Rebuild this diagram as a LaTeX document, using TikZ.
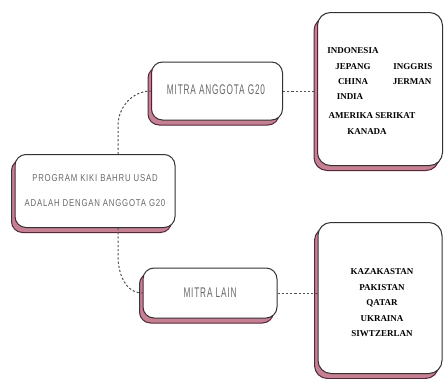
\documentclass[tikz,border=0pt]{standalone}
\usepackage{fontspec}
\setmainfont{Liberation Serif}
\newfontfamily\tipisfont[LetterSpace=10]{Liberation Sans}
\usetikzlibrary{shadows}
\definecolor{merahjambu}{RGB}{198,128,148}
\definecolor{marun}{RGB}{88,40,56}
\definecolor{garis}{RGB}{50,50,50}
\definecolor{kelabu}{RGB}{105,105,105}
\definecolor{putus}{RGB}{80,80,80}
\begin{document}
\begin{tikzpicture}[x=1pt,y=-1pt,font=\fontsize{9}{10}\selectfont\bfseries]
	\tikzset{kotak/.style={draw=garis,line width=1pt,fill=white,rounded corners=11pt,
			general shadow={shadow xshift=-3.5pt,shadow yshift=-5pt,fill=merahjambu,draw=marun,line width=1pt}},
		tajuk/.style={text=kelabu,font=\tipisfont\mdseries,align=center,inner sep=0pt},
		sambung/.style={draw=putus,dash pattern=on 2.2pt off 2pt,line width=1pt}}
	\useasboundingbox (0,0) rectangle (445,378);
	
	% Kotak utama
	\path (95,191) node[kotak,minimum width=160,minimum height=73] (program) {}
	(95,191) node[tajuk,font=\tipisfont\mdseries\fontsize{10}{25}\selectfont] (programteks)
	{\scalebox{0.78}[1]{PROGRAM KIKI BAHRU USAD}\\\scalebox{0.78}[1]{ADALAH DENGAN ANGGOTA G20}}
	
	% Dua kumpulan mitra
	(217,91) node[kotak,minimum width=131,minimum height=58] (anggota) {}
	(216,90) node[tajuk,font=\tipisfont\mdseries\fontsize{14}{16}\selectfont] (anggotateks)
	{\scalebox{0.59}[1]{MITRA ANGGOTA G20}}
	(210,293) node[kotak,minimum width=134,minimum height=50] (lain) {}
	(210,293) node[tajuk,font=\tipisfont\mdseries\fontsize{14}{16}\selectfont] (lainteks)
	{\scalebox{0.59}[1]{MITRA LAIN}}
	
	% Senarai negara
	(380,89) node[kotak,minimum width=125,minimum height=153,rounded corners=13pt] (senarai1) {}
	(380,298) node[kotak,minimum width=124,minimum height=151,rounded corners=13pt] (senarai2) {}
	
	(353,51) node (indonesia) {INDONESIA}
	(353,67) node (jepang) {JEPANG}
	(413,67) node (inggris) {INGGRIS}
	(353,82) node (china) {CHINA}
	(412,82) node (jerman) {JERMAN}
	(350,97) node (india) {INDIA}
	(372,116) node (amerika) {AMERIKA SERIKAT}
	(367,132) node (kanada) {KANADA}
	
	(382,303) node[align=center,font=\fontsize{9}{15.5}\selectfont\bfseries] (negaralain)
	{KAZAKASTAN\\PAKISTAN\\QATAR\\UKRAINA\\SIWTZERLAN};
	
	% Garis putus-putus
	\draw[sambung] ([xshift=23pt]program.north) -- ++(0,-28) to[out=90,in=180] (anggota.west);
	\draw[sambung] ([xshift=23pt]program.south) -- ++(0,28) to[out=-90,in=180] (lain.west);
	\draw[sambung] (anggota.east) -- (anggota.east -| senarai1.west);
	\draw[sambung] (lain.east) -- (lain.east -| senarai2.west);
\end{tikzpicture}
\end{document}
